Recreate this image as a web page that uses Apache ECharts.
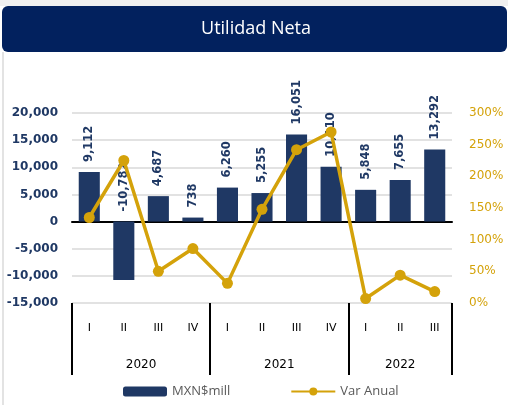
<!DOCTYPE html>
<html><head><meta charset="utf-8">
<script src="https://cdn.jsdelivr.net/npm/echarts@6/dist/echarts.min.js"></script>
<style>html,body{margin:0;padding:0;background:#fff;}#c{width:508px;height:405px;}</style>
</head><body><div id="c"></div>
<script>
var quarters = ['I','II','III','IV','I','II','III','IV','I','II','III'];
var years = ['2020','2021','2022'];
var yearSizes = [4,4,3];
var utilidad = [9112,-10782,4687,738,6260,5255,16051,10110,5848,7655,13292];
var varAnual = [135,225,50,86,31,148,242,270,7,44,18];

function fmt(v){
  v = Math.round(Number(v));
  var s = String(Math.abs(v)), out = '';
  for (var j = 0; j < s.length; j++) {
    if (j > 0 && (s.length - j) % 3 === 0) out += ',';
    out += s.charAt(j);
  }
  return (v < 0 ? '-' : '') + out;
}

var yearSlots = [];
var yearLabelIdx = {};
var yearTickIdx = {0:true};
var pos = 0;
for (var i = 0; i < years.length; i++) {
  yearLabelIdx[pos + yearSizes[i]] = years[i];
  pos += yearSizes[i]*2;
  yearTickIdx[pos] = true;
}
for (var k = 0; k <= quarters.length*2; k++) yearSlots.push(yearLabelIdx[k] || '');

var chart = echarts.init(document.getElementById('c'));
var navy = '#1F3864', gold = '#D4A20A';
chart.setOption({
  animation: false,
  backgroundColor: '#fff',
  graphic: [
    {type:'rect', shape:{x:0,y:0,width:508,height:6}, style:{fill:'#f0f0f0'}},
    {type:'rect', shape:{x:2,y:52,width:2,height:353}, style:{fill:'#e3e3e3'}},
    {type:'rect', shape:{x:2,y:6,width:505,height:46,r:6}, style:{fill:'#02215E'}},
    {type:'text', x:256, y:29, style:{text:'Utilidad Neta', fill:'#fff', font:'18px "Open Sans", sans-serif', textAlign:'center', textVerticalAlign:'middle'}}
  ],
  grid: {left:72, right:56, top:113, bottom:102, containLabel:false},
  legend: {
    bottom: 2, left: 118, itemGap: 60, itemWidth: 44, itemHeight: 10,
    textStyle: {color:'#595959', fontSize:13, fontFamily:'"Open Sans", sans-serif'},
    data: ['MXN$mill','Var Anual']
  },
  xAxis: [
    {type:'category', data:quarters, position:'bottom',
     axisLine:{onZero:true, lineStyle:{color:'#000', width:2}},
     axisTick:{show:false}, axisLabel:{show:false}},
    {type:'category', data:quarters, position:'bottom', offset:0,
     axisLine:{show:false, onZero:false}, axisTick:{show:false},
     axisLabel:{margin:20, color:'#000', fontSize:11, fontFamily:'"DejaVu Sans", sans-serif'}},
    {type:'category', data:yearSlots, position:'bottom', offset:0, boundaryGap:false,
     axisLine:{show:false, onZero:false},
     axisTick:{show:true, length:72, lineStyle:{color:'#000', width:2},
       interval:function(idx){return !!yearTickIdx[idx];}},
     axisLabel:{margin:56, color:'#000', fontSize:12, fontFamily:'"DejaVu Sans", sans-serif',
       interval:function(idx){return yearLabelIdx[idx] !== undefined;}}}
  ],
  yAxis: [
    {type:'value', min:-15000, max:20000, interval:5000,
     axisLine:{show:false}, axisTick:{show:false},
     splitLine:{lineStyle:{color:'#d9d9d9', width:1.5}},
     axisLabel:{margin:14, color:navy, fontWeight:'bold', fontSize:12, fontFamily:'"DejaVu Sans", sans-serif',
       formatter:function(val){ return '{n|' + fmt(val) + '}'; },
       rich:{n:{color:navy, fontWeight:'bold', fontSize:12, fontFamily:'"DejaVu Sans", sans-serif'}}}},
    {type:'value', min:0, max:300, interval:50, position:'right',
     axisLine:{show:false}, axisTick:{show:false}, splitLine:{show:false},
     axisLabel:{margin:17, color:gold, fontSize:12, fontFamily:'"DejaVu Sans", sans-serif', formatter:'{value}%'}}
  ],
  series: [
    {name:'MXN$mill', type:'bar', data:utilidad, barWidth:'61%',
     itemStyle:{color:navy},
     label:{show:true, position:'top', rotate:90, align:'left', verticalAlign:'middle', distance:10,
       color:navy, fontWeight:'bold', fontSize:11.5, fontFamily:'"DejaVu Sans", sans-serif',
       formatter:function(p){return fmt(p.value);}}},
    {name:'Var Anual', type:'line', yAxisIndex:1, data:varAnual, z:5,
     symbol:'circle', symbolSize:11,
     lineStyle:{color:gold, width:3.5}, itemStyle:{color:gold}}
  ]
});
</script></body></html>
